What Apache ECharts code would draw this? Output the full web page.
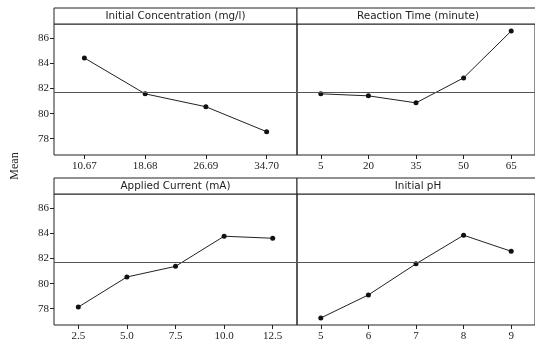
<!DOCTYPE html>
<html>
<head>
<meta charset="utf-8">
<script src="https://cdn.jsdelivr.net/npm/echarts@6/dist/echarts.min.js"></script>
<style>
  html, body { margin: 0; padding: 0; background: #fff; }
  #chart { width: 535px; height: 349px; }
</style>
</head>
<body>
<div id="chart"></div>
<script>
// factor levels and mean responses
const concLevels = ["10.67", "18.68", "26.69", "34.70"];
const concMeans = [84.44, 81.58, 80.55, 78.56];
const timeLevels = ["5", "20", "35", "50", "65"];
const timeMeans = [81.58, 81.42, 80.86, 82.85, 86.59];
const currentLevels = ["2.5", "5.0", "7.5", "10.0", "12.5"];
const currentMeans = [78.13, 80.53, 81.38, 83.78, 83.62];
const phLevels = ["5", "6", "7", "8", "9"];
const phMeans = [77.26, 79.1, 81.58, 83.86, 82.58];
const grandMean = 81.68;
const yTicks = [78, 80, 82, 84, 86];
const panelTitles = ["Initial Concentration (mg/l)", "Reaction Time (minute)", "Applied Current (mA)", "Initial pH"];

const panels = [
  { levels: concLevels, means: concMeans, left: 54, top: 24, width: 243, yLabels: true },
  { levels: timeLevels, means: timeMeans, left: 297, top: 24, width: 242, yLabels: false },
  { levels: currentLevels, means: currentMeans, left: 54, top: 194, width: 243, yLabels: true },
  { levels: phLevels, means: phMeans, left: 297, top: 194, width: 242, yLabels: false },
];
const plotH = 131;
const headH = 16;
const ink = "#222";
const serif = "'Times New Roman', 'Liberation Serif', serif";

const chart = echarts.init(document.getElementById("chart"));

const option = {
  backgroundColor: "#fff",
  animation: false,
  grid: panels.map((p) => ({
    left: p.left,
    top: p.top,
    width: p.width,
    height: plotH,
    show: true,
    borderColor: ink,
    borderWidth: 1,
    containLabel: false,
  })),
  xAxis: panels.map((p, i) => ({
    type: "category",
    gridIndex: i,
    data: p.levels,
    boundaryGap: true,
    axisLine: { show: false },
    axisTick: { show: true, alignWithLabel: true, length: 4, lineStyle: { color: ink } },
    axisLabel: { color: ink, fontFamily: serif, fontSize: 11, margin: 6 },
    splitLine: { show: false },
  })),
  yAxis: panels.map((p, i) => ({
    type: "value",
    gridIndex: i,
    min: 76.7,
    max: 87.15,
    axisLine: { show: false },
    axisTick: { show: p.yLabels, length: 4, customValues: yTicks, lineStyle: { color: ink } },
    axisLabel: { show: p.yLabels, customValues: yTicks, color: ink, fontFamily: serif, fontSize: 11, margin: 5 },
    splitLine: { show: false },
  })),
  series: panels.map((p, i) => ({
    type: "line",
    xAxisIndex: i,
    yAxisIndex: i,
    data: p.means,
    symbol: "circle",
    symbolSize: 5,
    itemStyle: { color: "#111" },
    lineStyle: { color: ink, width: 1 },
    markLine: {
      silent: true,
      symbol: ["none", "none"],
      label: { show: false },
      lineStyle: { color: "#555", width: 1, type: "solid" },
      data: [{ yAxis: grandMean }],
    },
  })),
  graphic: [
    ...panels.map((p, i) => ({
      type: "rect",
      shape: { x: p.left, y: p.top - headH, width: p.width, height: headH },
      style: { fill: "#fff", stroke: ink, lineWidth: 1 },
      textContent: {
        style: { text: panelTitles[i], fill: ink, font: "10.4px 'DejaVu Sans'" },
      },
      textConfig: { position: "inside" },
    })),
    {
      type: "text",
      x: 15,
      y: 166,
      rotation: Math.PI / 2,
      style: { text: "Mean", fill: ink, font: "12px 'Times New Roman', 'Liberation Serif', serif", textAlign: "center", textVerticalAlign: "middle" },
    },
  ],
};

chart.setOption(option);
</script>
</body>
</html>
